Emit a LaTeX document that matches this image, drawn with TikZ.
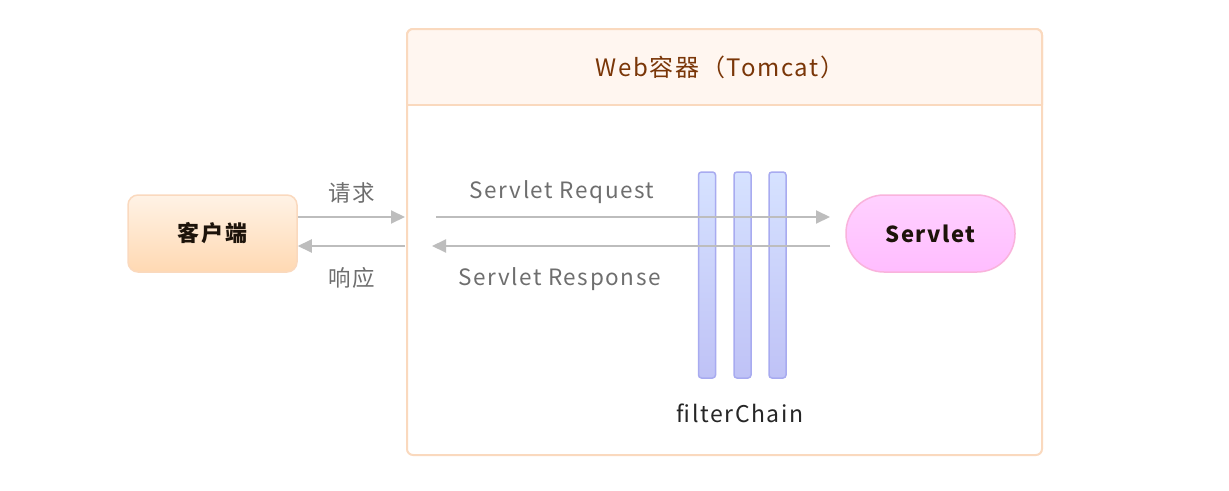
\documentclass[tikz,border=0pt]{standalone}
\usepackage{fontspec}
\setmainfont{Noto Sans CJK SC}[LetterSpace=7]
\usetikzlibrary{calc, arrows.meta, positioning}
\definecolor{boxline}{HTML}{FAD9BE}
\definecolor{headfill}{HTML}{FFF6F0}
\definecolor{titlebrown}{HTML}{7A3608}
\definecolor{flow}{HTML}{BDBDBD}
\definecolor{labelgray}{HTML}{6E6E6E}
\definecolor{filttop}{HTML}{D6E2FF}
\definecolor{filtbot}{HTML}{BFC2F6}
\definecolor{filtline}{HTML}{A8ABF0}
\begin{document}
\begin{tikzpicture}[x=1pt, y=-1pt, >={Triangle[length=14pt,width=13pt]}]
		\tikzstyle{client} = [draw=boxline, line width=1.5pt, rounded corners=10pt, top color=orange!10, bottom color=orange!30, minimum width=169pt, minimum height=77pt, font=\fontsize{22}{22}\selectfont\bfseries, text=black!85!brown]
		\tikzstyle{pill} = [draw=magenta!30, line width=1.5pt, rounded corners=38pt, top color=magenta!18, bottom color=magenta!26, minimum width=169pt, minimum height=77pt, font=\fontsize{22}{22}\selectfont\bfseries, text=black!85!brown]
		\tikzstyle{filt} = [draw=filtline, line width=1.5pt, rounded corners=3pt, top color=filttop, bottom color=filtbot, minimum width=17pt, minimum height=206pt, inner sep=0pt]
		\tikzstyle{lbl} = [font=\fontsize{22.5}{22.5}\selectfont, text=labelgray]
		\tikzstyle{flowline} = [flow, line width=2pt]

		\useasboundingbox (0,0) rectangle (1229,490);
		\draw[boxline, line width=2pt, fill=white, rounded corners=6pt] (407,29) rectangle (1042,455);
		\draw[boxline, line width=2pt, fill=headfill, rounded corners=6pt] (407,105) |- (1042,29) -- (1042,105);
		\draw[boxline, line width=2pt] (407,105) -- (1042,105);
		\node[font=\fontsize{24}{24}\selectfont, text=titlebrown] at (720,67) (web) {Web容器（Tomcat）};

		\node[client]	at (212.5,233.5)	(cl)	{客户端};
		\node[pill]		at (930.5,233.5)	(sv)	{Servlet};
		\node[filt]		at (707,275)		(f1)	{};
		\node[filt]		at (742.5,275)		(f2)	{};
		\node[filt]		at (777.5,275)		(f3)	{};
		\node[font=\fontsize{23}{23}\selectfont, text=black!85] at (740,413) (fc) {filterChain};

		\coordinate (in1) at (405,217);
		\coordinate (in2) at (405,246);
		\coordinate (rq1) at (436,217);
		\coordinate (rq2) at (830,217);
		\coordinate (rs1) at (830,246);
		\coordinate (rs2) at (432,246);

		\path[->, flowline]
		([yshift=16.5pt]cl.east)	edge	node[lbl, above=9pt] {请求}	(in1)
		(in2)	edge	node[lbl, below=17pt] {响应}	([yshift=-12.5pt]cl.east)
		(rq1)	edge	node[lbl, pos=0.32, above=9pt] {Servlet Request}	(rq2)
		(rs1)	edge	node[lbl, pos=0.68, below=17pt] {Servlet Response}	(rs2);
\end{tikzpicture}
\end{document}
